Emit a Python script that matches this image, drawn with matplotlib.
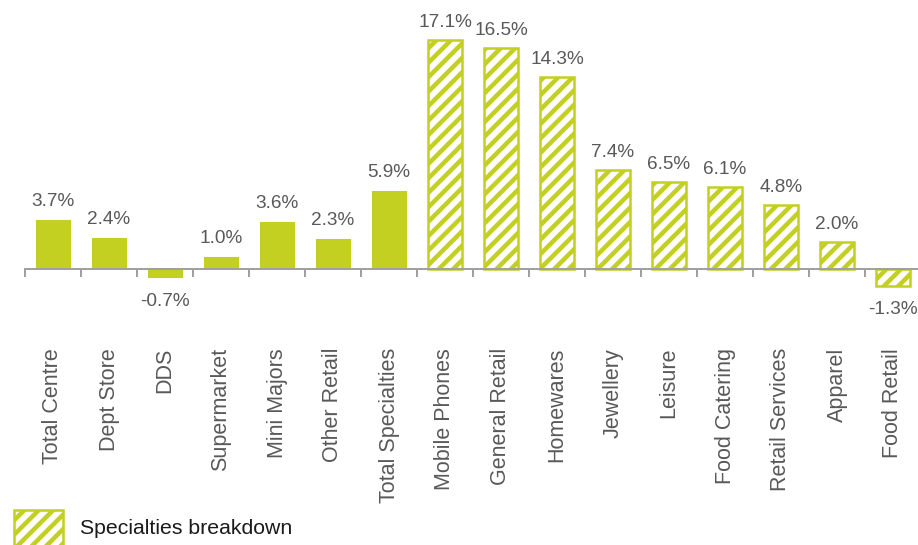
import matplotlib.pyplot as plt
from matplotlib.patches import Patch

plt.rcParams['font.family'] = ['Liberation Sans', 'DejaVu Sans']

categories = ['Total Centre', 'Dept Store', 'DDS', 'Supermarket', 'Mini Majors',
              'Other Retail', 'Total Specialties', 'Mobile Phones', 'General Retail',
              'Homewares', 'Jewellery', 'Leisure', 'Food Catering', 'Retail Services',
              'Apparel', 'Food Retail']
values = [3.7, 2.4, -0.7, 1.0, 3.6, 2.3, 5.9, 17.1, 16.5, 14.3, 7.4, 6.5, 6.1, 4.8, 2.0, -1.3]
n_solid = 7  # the rest is the specialties breakdown (hatched)

green = '#C3CF21'
grey_txt = '#595959'
dpi = 130
px = 72 / dpi  # points per pixel

plt.rcParams['hatch.linewidth'] = 4.5 * px
plt.rcParams['hatch.color'] = green

fig = plt.figure(figsize=(918 / dpi, 545 / dpi), dpi=dpi)
# zero line at y=269 px, 13.4 px per unit
ylo, yhi = -4.5, 20.05
bottom_px = 269 + (-ylo) * 13.4
ax = fig.add_axes([25 / 918, 1 - bottom_px / 545, 896 / 918, (yhi - ylo) * 13.4 / 545])

x = range(len(categories))
for i, v in zip(x, values):
    if i < n_solid:
        ax.bar(i, v, width=0.63, color=green, edgecolor='white', linewidth=0.5)
    else:
        ax.bar(i, v, width=0.6, facecolor='white', edgecolor=green, hatch='///',
               linewidth=2.5 * px)
    lbl = f'{v:.1f}%'
    if v >= 0:
        ax.annotate(lbl, (i, v), xytext=(0, 13 * px), textcoords='offset points',
                    ha='center', va='baseline', fontsize=19 * px, color=grey_txt)
    else:
        ax.annotate(lbl, (i, v), xytext=(0, -15 * px), textcoords='offset points',
                    ha='center', va='top', fontsize=19 * px, color=grey_txt)

ax.set_xlim(-0.5, len(categories) - 0.5)
ax.set_ylim(ylo, yhi)
ax.axhline(0, color='#A0A0A0', linewidth=2 * px, zorder=3)
for s in ax.spines.values():
    s.set_visible(False)
ax.set_yticks([])
ax.set_xticks(list(x))
ax.set_xticklabels(categories, rotation=90, fontsize=21.5 * px, color=grey_txt)
ax.tick_params(axis='x', length=0, pad=(348 - bottom_px) * px)
# boundary ticks below the zero line
for b in range(len(categories) + 1):
    ax.plot([b - 0.5, b - 0.5], [0, -7 / 13.4], color='#A0A0A0', linewidth=2 * px,
            clip_on=False, zorder=3)

handle = Patch(facecolor='white', edgecolor=green, hatch='///', linewidth=2.5 * px)
fig.legend([handle], ['Specialties breakdown'], loc='upper left',
           bbox_to_anchor=(14 / 918, 1 - 510 / 545), frameon=False,
           fontsize=21.3 * px, handlelength=2.3, handleheight=2.2,
           handletextpad=0.8, borderpad=0, borderaxespad=0, labelcolor='#1a1a1a')

fig.savefig('out.png', dpi=dpi)
